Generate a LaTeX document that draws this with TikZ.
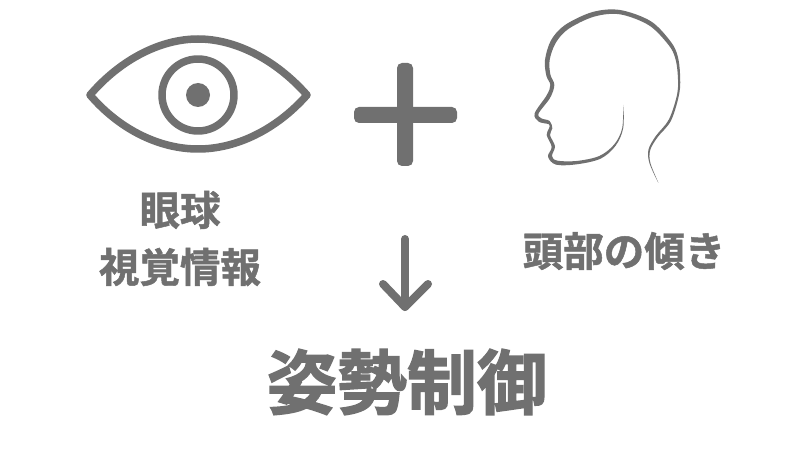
\documentclass[tikz,border=0pt]{standalone}
\usepackage{fontspec}
\newfontfamily\cjk[FakeBold=1.2]{Noto Sans CJK JP Bold}
\newfontfamily\cjkbig[FakeBold=2]{Noto Sans CJK JP Bold}
\definecolor{ink}{HTML}{707070}
\tikzset{
  lbl/.style={text=ink,font=\cjk\fontsize{40.5}{50}\selectfont,inner sep=0pt,align=center},
  big/.style={text=ink,font=\cjkbig\fontsize{70}{80}\selectfont,inner sep=0pt},
  ic/.style={draw=ink,line width=7.5pt,line join=round,line cap=round},
  arrowline/.style={draw=ink,line width=8pt,line cap=round,line join=round}
}
\begin{document}
\begin{tikzpicture}[x=1pt,y=-1pt]
\useasboundingbox (0,0) rectangle (800,454);
\fill[white] (0,0) rectangle (800,454);
% eye
\draw[ic] (90,95) .. controls (120,60) and (160,39) .. (198,39) .. controls (236,39) and (276,60) .. (307,95) .. controls (276,130) and (236,149) .. (198,149) .. controls (160,149) and (120,130) .. (90,95) -- cycle;
\draw[ic] (198,95) circle (36);
\fill[ink] (198,95) circle (12);
% plus
\fill[ink,rounded corners=5pt] (397,63) rectangle (413,166);
\fill[ink,rounded corners=5pt] (354,107) rectangle (457,123);
% head
\begin{scope}[shift={(520,0)},x=0.3333pt,y=-0.3333pt]
\fill[ink] plot[smooth cycle,tension=0.55] coordinates {
 (415,548) (391.5,490) (390.5,451) (412.5,412) (453,362) (478,280) (480,220) (473,168) (453,126) (393,64) (300,30) (218,36) (135,75) (93,121) (75,180) (79,227) (91,255) (80,286) (44,340) (56,365) (87,373) (87,385) (80,405) (95,441) (84,470) (108,494) (170,493) (242,476) (287,437) (309.5,385) (310,315)
 (306.5,385) (283,433) (238,468) (170,483) (112,482) (96,468) (105,439) (90,405) (97,385) (89,363) (64,355) (56,340) (90,294) (103,255) (91,223) (89,180) (107,129) (145,87) (222,50) (300,43) (387,76) (445,134) (465,172) (473,220) (472,280) (447,358) (407.5,408) (385.5,449) (388.5,490)
};
\end{scope}
% arrow
\draw[arrowline] (405,239) -- (405,307);
\draw[arrowline] (383,284) -- (405,307) -- (428,284);
\node[lbl] (a) at (180,210) {眼球};
\node[lbl] (b) at (180,267) {視覚情報};
\node[lbl] (c) at (624,251) {頭部の傾き};
\node[big] (d) at (407,382) {姿勢制御};
\end{tikzpicture}
\end{document}
